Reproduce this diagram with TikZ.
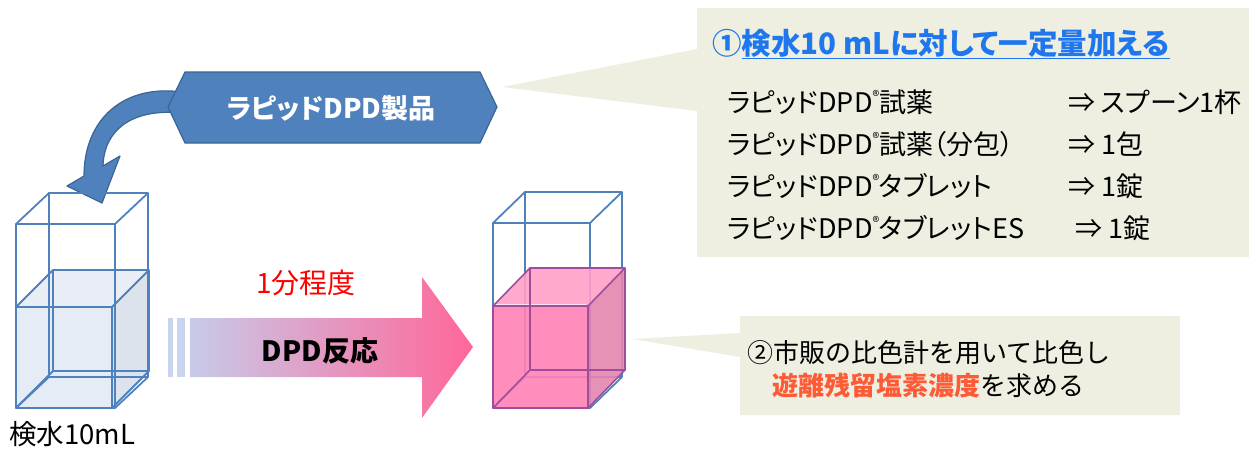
\documentclass[tikz,border=0pt]{standalone}
\usepackage{fontspec}
\newfontfamily\jp{Noto Sans CJK JP}
\newfontfamily\jpp[RawFeature=+palt]{Noto Sans CJK JP}
\newcommand\regmk{\raisebox{0.4em}{\fontsize{14}{14}\selectfont ®}}
\definecolor{cuvblue}{HTML}{4F81BD}
\definecolor{hexfill}{HTML}{4F81BD}
\definecolor{hexline}{HTML}{3A6595}
\definecolor{notebg}{HTML}{EEEFE0}
\definecolor{titleblue}{HTML}{1F77F0}
\definecolor{hiorange}{HTML}{FF5A36}
\definecolor{arrowL}{HTML}{C8CAE9}
\definecolor{arrowR}{HTML}{FF6699}
\definecolor{stripe}{HTML}{C9D5EE}
\definecolor{waterfront}{HTML}{E5ECF5}
\definecolor{waterside}{HTML}{DCE3ED}
\definecolor{watertop}{HTML}{E9EEF6}
\definecolor{pinkfront}{HTML}{FF82B5}
\definecolor{pinkside}{HTML}{E385AE}
\definecolor{pinktop}{HTML}{FFA0C8}
\definecolor{pinkedge}{HTML}{9E4E9C}
\begin{document}
\begin{tikzpicture}[x=1pt,y=-1pt,
  cuvedge/.style={draw=cuvblue,line width=1.8pt,line join=round},
  liqedge/.style={draw=pinkedge,line width=1.6pt,line join=round},
  listtext/.style={anchor=base west,inner sep=0pt,font=\jpp\fontsize{27}{30}\selectfont,text=black},
  plain/.style={inner sep=0pt}]
\useasboundingbox (0,0) rectangle (1249,448);

% speech boxes
\fill[notebg] (697,8) -- (1249,8) -- (1249,257) -- (697,257) -- (697,111) -- (502,87) -- (697,49) -- cycle;
\fill[notebg] (740,316) -- (1180,316) -- (1180,415) -- (740,415) -- (740,357) -- (632,339) -- (740,333) -- cycle;

% curved arrow from the product tag down into the sample cell
\draw[hexline,fill=hexfill,line width=1.2pt,line join=round]
  (182,92) .. controls (125,84) and (84,118) .. (84,176) -- (67,186) -- (102,203) -- (120,156)
  -- (103,166) .. controls (104,130) and (132,108) .. (182,113) -- cycle;

% product tag
\draw[hexline,fill=hexfill,line width=1.2pt,line join=round]
  (168,107) -- (185,72) -- (480,72) -- (497,107) -- (480,143) -- (185,143) -- cycle;
\node[plain,text=white,font=\jpp\bfseries\fontsize{27}{30}\selectfont] (product) at (331,108) {ラピッドDPD製品};

% sample cell (water)
\fill[waterfront] (16,307) rectangle (112,408);
\fill[waterside] (112,307) -- (149,270) -- (149,371) -- (112,408) -- cycle;
\fill[watertop] (16,307) -- (53,270) -- (149,270) -- (112,307) -- cycle;
\draw[cuvedge] (16,307) rectangle (112,408);
\draw[cuvedge] (53,270) rectangle (149,371);
\draw[cuvedge] (16,307) -- (53,270) (112,307) -- (149,270) (112,408) -- (149,371) (16,408) -- (53,371);
\draw[cuvedge] (16,224) rectangle (115,408);
\draw[cuvedge] (49,193) rectangle (148,377);
\draw[cuvedge] (16,224) -- (49,193) (115,224) -- (148,193) (115,408) -- (148,377) (16,408) -- (49,377);
\node[anchor=base west,inner sep=0pt,font=\jp\fontsize{27.5}{30}\selectfont] (sample) at (9,444) {検水10mL};

% reaction arrow
\fill[stripe] (168,318) rectangle (173,377);
\fill[stripe] (177,318) rectangle (185,377);
\shade[left color=arrowL,right color=arrowR]
  (190,318) -- (422,318) -- (422,277) -- (473,347) -- (422,418) -- (422,377) -- (190,377) -- cycle;
\node[anchor=base west,inner sep=0pt,text=red,font=\jp\fontsize{28}{30}\selectfont] (time) at (256,293) {1分程度};
\node[plain,font=\jp\bfseries\fontsize{28}{30}\selectfont] (react) at (320,351) {DPD反応};

% coloured cell
\draw[cuvedge] (493,223) rectangle (590,408);
\draw[cuvedge] (525,192) rectangle (622,377);
\draw[cuvedge] (493,223) -- (525,192) (590,223) -- (622,192) (590,408) -- (622,377) (493,408) -- (525,377);
\fill[pinkfront,opacity=0.9] (493,306) rectangle (588,408);
\fill[pinkside,opacity=0.9] (588,306) -- (625,268) -- (625,370) -- (588,408) -- cycle;
\fill[pinktop,opacity=0.9] (493,306) -- (530,268) -- (625,268) -- (588,306) -- cycle;
\draw[white,opacity=0.7,line width=1pt] (495,304) -- (586,304);
\draw[liqedge] (493,306) rectangle (588,408);
\draw[liqedge] (530,268) rectangle (625,370);
\draw[liqedge] (493,306) -- (530,268) (588,306) -- (625,268) (588,408) -- (625,370) (493,408) -- (530,370);

% step 1 text
\node[anchor=base west,inner sep=0pt,text=titleblue,font=\jpp\bfseries\fontsize{29.5}{32}\selectfont] (title) at (712,54)
  {①\underline{検水10 mLに対して一定量加える}};
\node[listtext] (r1) at (727,112) {ラピッドDPD\regmk 試薬};
\node[listtext] (r2) at (727,154) {ラピッドDPD\regmk 試薬（分包）};
\node[listtext] (r3) at (727,196) {ラピッドDPD\regmk タブレット};
\node[listtext] (r4) at (727,238) {ラピッドDPD\regmk タブレットES};
\node[listtext] (a1) at (1068,112) {⇒ スプーン1杯};
\node[listtext] (a2) at (1068,154) {⇒ 1包};
\node[listtext] (a3) at (1068,196) {⇒ 1錠};
\node[listtext] (a4) at (1075,238) {⇒ 1錠};

% step 2 text
\node[anchor=base west,inner sep=0pt,font=\jp\fontsize{26}{30}\selectfont] (s2a) at (747,362) {②市販の比色計を用いて比色し};
\node[anchor=base west,inner sep=0pt,font=\jp\fontsize{26}{30}\selectfont] (s2b) at (772,395)
  {{\bfseries\color{hiorange}遊離残留塩素濃度}を求める};
\end{tikzpicture}
\end{document}
